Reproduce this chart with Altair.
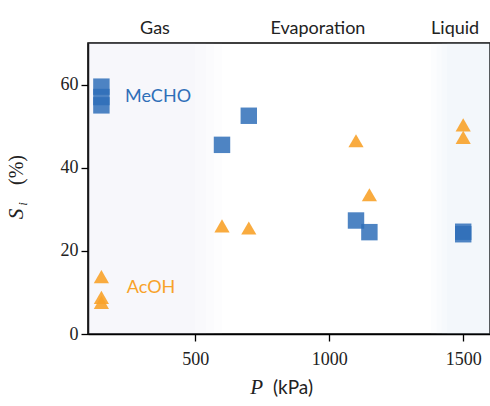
import altair as alt
import pandas as pd

# --- data ---
mecho_p = [150, 150, 150, 600, 700, 1100, 1150, 1500, 1500]
mecho_s = [59.5, 57.0, 55.0, 45.5, 52.5, 27.3, 24.5, 24.0, 24.6]
acoh_p = [150, 150, 150, 600, 700, 1100, 1150, 1500, 1500]
acoh_s = [13.8, 8.8, 7.6, 26.0, 25.5, 46.5, 33.5, 50.3, 47.3]

region_names = ["Gas", "Evaporation", "Liquid"]
region_label_p = [350, 958, 1470]

series_labels = ["MeCHO", "AcOH"]
series_label_p = [238, 245]
series_label_s = [57.0, 11.0]

# background bands (start, end, colour, opacity)
band_start = [100, 100, 100, 100, 1380, 1400, 1420, 1440]
band_end = [600, 570, 540, 500, 1600, 1600, 1600, 1600]
band_color = ["#cfd2da", "#cfd2da", "#cfd2da", "#cfd2da", "#c6dcf2", "#c6dcf2", "#c6dcf2", "#c6dcf2"]
band_opacity = [0.035, 0.035, 0.035, 0.035, 0.05, 0.05, 0.05, 0.05]

BLUE = "#2f6fb8"
ORANGE = "#f8a22a"

pts = pd.DataFrame({
    "P": mecho_p + acoh_p,
    "S": mecho_s + acoh_s,
    "species": ["MeCHO"] * len(mecho_p) + ["AcOH"] * len(acoh_p),
})
bands = pd.DataFrame({"x0": band_start, "x1": band_end, "c": band_color, "o": band_opacity})
regions = pd.DataFrame({"name": region_names, "P": region_label_p})
slabels = pd.DataFrame({"name": series_labels, "P": series_label_p, "S": series_label_s})

xscale = alt.Scale(domain=[100, 1600], nice=False, zero=False)
yscale = alt.Scale(domain=[0, 70], nice=False)

xaxis = alt.Axis(values=[500, 1000, 1500], format="d", title=None, labelFont="Liberation Serif",
                 labelFontSize=18, labelColor="#222", tickColor="black", tickSize=7,
                 tickWidth=1.3, domainColor="black", domainWidth=1.5, grid=False, labelPadding=9)
yaxis = alt.Axis(values=[0, 20, 40, 60], format="d", title=None, labelFont="Liberation Serif",
                 labelFontSize=18, labelColor="#222", tickColor="black", tickSize=7,
                 tickWidth=1.3, domainColor="black", domainWidth=1.5, grid=False, labelPadding=3)

bg = alt.Chart(bands).mark_rect(stroke=None).encode(
    x=alt.X("x0:Q", scale=xscale, axis=xaxis),
    x2="x1:Q",
    y=alt.value(0),
    y2=alt.value(291),
    color=alt.Color("c:N", scale=None),
    opacity=alt.Opacity("o:Q", scale=None),
)

sq = alt.Chart(pts).transform_filter(alt.datum.species == "MeCHO").mark_point(
    shape="square", filled=True, size=270, color=BLUE, opacity=0.85
).encode(
    x=alt.X("P:Q", scale=xscale, axis=xaxis),
    y=alt.Y("S:Q", scale=yscale, axis=yaxis),
)

tri = alt.Chart(pts).transform_filter(alt.datum.species == "AcOH").mark_point(
    shape="triangle-up", filled=True, size=230, color=ORANGE, opacity=0.9
).encode(
    x=alt.X("P:Q", scale=xscale),
    y=alt.Y("S:Q", scale=yscale),
)

lab = alt.Chart(slabels).mark_text(align="left", baseline="middle", font="Lato", fontSize=18).encode(
    x=alt.X("P:Q", scale=xscale),
    y=alt.Y("S:Q", scale=yscale),
    color=alt.Color("name:N", scale=alt.Scale(domain=series_labels, range=[BLUE, ORANGE]), legend=None),
    text="name:N",
)

reg = alt.Chart(regions).mark_text(baseline="middle", font="Lato", fontSize=18, color="#222").encode(
    x=alt.X("P:Q", scale=xscale),
    y=alt.value(-14),
    text="name:N",
)

xt1 = alt.Chart(pd.DataFrame({"t": ["P"]})).mark_text(
    font="Liberation Serif", fontStyle="italic", fontSize=21, align="right", baseline="middle", color="#222"
).encode(x=alt.value(175), y=alt.value(345), text="t:N")
xt2 = alt.Chart(pd.DataFrame({"t": ["(kPa)"]})).mark_text(
    font="Lato", fontSize=19, align="left", baseline="middle", color="#222"
).encode(x=alt.value(185), y=alt.value(345), text="t:N")

yt = alt.Chart(pd.DataFrame({"t": ["(%)"]})).mark_text(
    font="Liberation Serif", fontSize=20, angle=270, align="center", baseline="middle", color="#222"
).encode(x=alt.value(-71), y=alt.value(127), text="t:N")
ys = alt.Chart(pd.DataFrame({"t": ["S"]})).mark_text(
    font="Liberation Serif", fontStyle="italic", fontSize=21, angle=270, align="center", baseline="middle", color="#222"
).encode(x=alt.value(-71), y=alt.value(171), text="t:N")
yi = alt.Chart(pd.DataFrame({"t": ["i"]})).mark_text(
    font="Liberation Serif", fontStyle="italic", fontSize=13, angle=270, align="center", baseline="middle", color="#222"
).encode(x=alt.value(-65), y=alt.value(161), text="t:N")

chart = alt.layer(bg, sq, tri, lab, reg, xt1, xt2, yt, ys, yi).properties(
    width=402, height=291,
    autosize=alt.AutoSizeParams(type="none"),
    padding={"left": 88, "top": 43, "right": 0, "bottom": 72},
).configure_view(stroke="black", strokeWidth=1.5)

chart.save("out.html", embed_options={"renderer": "svg", "actions": False})
